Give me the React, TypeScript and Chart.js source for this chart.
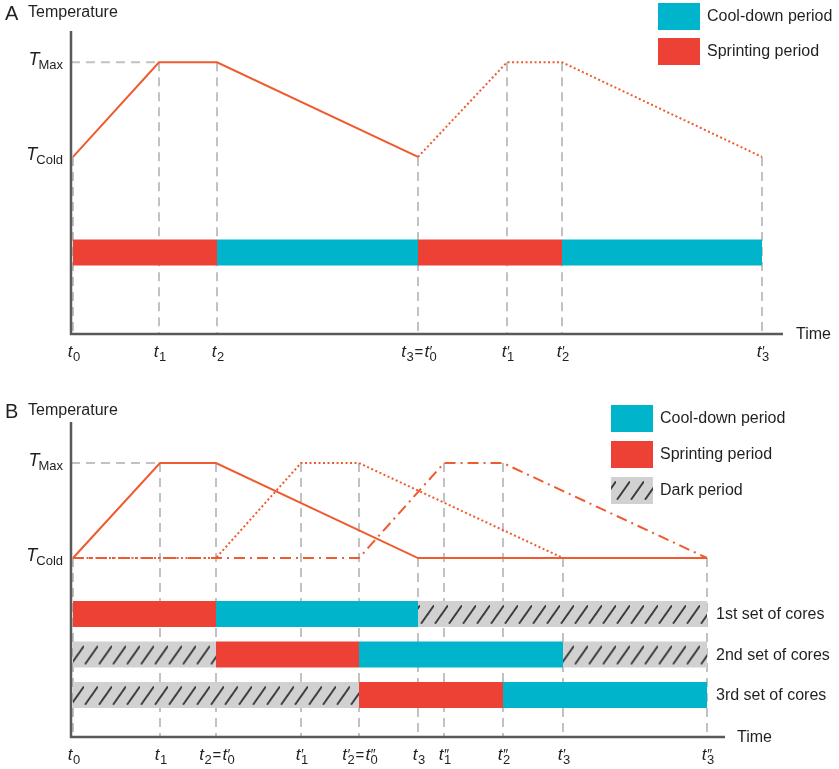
import React, { useEffect, useRef } from 'react';
import { Chart, registerables } from 'chart.js';
Chart.register(...registerables);

// ---------- data ----------
const T_COLD = 0;
const T_MAX = 1;

// Panel A (time in arbitrary units)
const timesA = [0, 86, 144, 345, 434, 489, 689];
const tickLabelsA = ['t0', 't1', 't2', 't3=t′0', 't′1', 't′2', 't′3'];
const solidIdxA = [0, 1, 2, 3];
const solidTempA = [T_COLD, T_MAX, T_MAX, T_COLD];
const dottedIdxA = [3, 4, 5, 6];
const dottedTempA = [T_COLD, T_MAX, T_MAX, T_COLD];
const guideTopA = [T_COLD, T_MAX, T_MAX, T_COLD, T_MAX, T_MAX, T_COLD];
const barsA = [
  { from: 0, to: 2, kind: 'sprint' },
  { from: 2, to: 3, kind: 'cool' },
  { from: 3, to: 5, kind: 'sprint' },
  { from: 5, to: 6, kind: 'cool' },
];

// Panel B
const timesB = [0, 87, 143, 228, 286, 345, 371, 430, 490, 634];
const tickLabelsB = ['t0', 't1', 't2=t′0', 't′1', 't′2=t″0', 't3', 't″1', 't″2', 't′3', 't″3'];
const solidIdxB = [0, 1, 2, 5, 9];
const solidTempB = [T_COLD, T_MAX, T_MAX, T_COLD, T_COLD];
const dottedIdxB = [0, 2, 3, 4, 8];
const dottedTempB = [T_COLD, T_COLD, T_MAX, T_MAX, T_COLD];
const dashDotIdxB = [0, 4, 6, 7, 9];
const dashDotTempB = [T_COLD, T_COLD, T_MAX, T_MAX, T_COLD];
const guideTopB = [T_COLD, T_MAX, T_MAX, T_MAX, T_MAX, T_COLD, T_MAX, T_MAX, T_COLD, T_COLD];
const rowNamesB = ['1st set of cores', '2nd set of cores', '3rd set of cores'];
const rowsB = [
  [ { from: 0, to: 2, kind: 'sprint' }, { from: 2, to: 5, kind: 'cool' }, { from: 5, to: 9, kind: 'dark' } ],
  [ { from: 0, to: 2, kind: 'dark' }, { from: 2, to: 4, kind: 'sprint' }, { from: 4, to: 8, kind: 'cool' }, { from: 8, to: 9, kind: 'dark' } ],
  [ { from: 0, to: 4, kind: 'dark' }, { from: 4, to: 7, kind: 'sprint' }, { from: 7, to: 9, kind: 'cool' } ],
];
const legendA = [ { kind: 'cool', label: 'Cool-down period' }, { kind: 'sprint', label: 'Sprinting period' } ];
const legendB = [ { kind: 'cool', label: 'Cool-down period' }, { kind: 'sprint', label: 'Sprinting period' }, { kind: 'dark', label: 'Dark period' } ];

// ---------- style ----------
const FONT = '"Liberation Sans", Arial, Helvetica, sans-serif';
const TEXT = '#231f20';
const CURVE = '#ef5a2e';
const SPRINT = '#ee4136';
const COOL = '#00b4cc';
const DARK_BG = '#d1d1d1';
const GUIDE = '#c2c2c2';
const AXIS = '#58595b';
const BAR_H = 26;

function hatchPattern(ctx: CanvasRenderingContext2D, top: number) {
  const c = document.createElement('canvas');
  c.width = 14; c.height = BAR_H;
  const g = c.getContext('2d')!;
  g.fillStyle = DARK_BG; g.fillRect(0, 0, 14, BAR_H);
  g.strokeStyle = '#3c3c3c'; g.lineWidth = 2; g.lineCap = 'round';
  g.beginPath(); g.moveTo(1.5, 22); g.lineTo(13.5, 5); g.stroke();
  const p = ctx.createPattern(c, 'repeat')!;
  const t = isFinite(top) ? top : 0;
  try { p.setTransform(new DOMMatrix().translate(0, t)); } catch (e) { /* ignore */ }
  return p;
}

function kindColor(kind: string) { return kind === 'sprint' ? SPRINT : COOL; }

function pts(idx: number[], temps: number[], times: number[]) {
  return idx.map((i, k) => ({ x: times[i], y: temps[k] }));
}

function curveDs(data: any[], dash: number[]) {
  return { data, borderColor: CURVE, borderWidth: 2, borderDash: dash, pointRadius: 0, fill: false, tension: 0, borderCapStyle: 'butt' };
}

function barDs(times: number[], seg: any, level: number) {
  return {
    data: [{ x: times[seg.from], y: level }, { x: times[seg.to], y: level }],
    borderColor: seg.kind === 'dark'
      ? (c: any) => hatchPattern(c.chart.ctx, c.chart.scales.y.getPixelForValue(level) - BAR_H / 2)
      : kindColor(seg.kind),
    borderWidth: BAR_H, borderCapStyle: 'butt', pointRadius: 0, fill: false, tension: 0,
  };
}

function guideDs(data: any[]) {
  return { data, borderColor: GUIDE, borderWidth: 2, borderDash: [9, 6], pointRadius: 0, fill: false, tension: 0 };
}

// ---------- text helpers ----------
function drawTLabel(ctx: CanvasRenderingContext2D, label: string, cx: number, baseline: number, big: number, small: number) {
  const pieces: { text: string; font: string; x: number; dy: number }[] = [];
  let x = 0; let pending = 0;
  const chars = Array.from(label);
  for (let i = 0; i < chars.length; i++) {
    const ch = chars[i];
    let font: string; let w: number;
    if (ch === '′' || ch === '″') {
      font = `italic ${small + 1}px ${FONT}`; ctx.font = font; w = ctx.measureText(ch).width;
      pieces.push({ text: ch, font, x: x - 0.5, dy: -1 }); pending = w;
    } else if (/[0-9]/.test(ch)) {
      font = `${small}px ${FONT}`; ctx.font = font; w = ctx.measureText(ch).width;
      pieces.push({ text: ch, font, x, dy: small * 0.32 }); x += Math.max(w, pending); pending = 0;
    } else if (ch === '=') {
      font = `${big - 2}px ${FONT}`; ctx.font = font; w = ctx.measureText(ch).width;
      pieces.push({ text: ch, font, x: x + 1, dy: 0 }); x += w + 2;
    } else {
      font = `italic ${big}px ${FONT}`; ctx.font = font; w = ctx.measureText(ch).width;
      pieces.push({ text: ch, font, x, dy: 0 }); x += w + 0.5;
    }
  }
  const start = cx - x / 2;
  ctx.fillStyle = TEXT; ctx.textAlign = 'left'; ctx.textBaseline = 'alphabetic';
  for (const p of pieces) { ctx.font = p.font; ctx.fillText(p.text, start + p.x, baseline + p.dy); }
}

function drawYLabel(ctx: CanvasRenderingContext2D, sub: string, right: number, baseline: number) {
  ctx.fillStyle = TEXT; ctx.textBaseline = 'alphabetic'; ctx.textAlign = 'left';
  ctx.font = `italic 18px ${FONT}`; const wT = ctx.measureText('T').width;
  ctx.font = `13px ${FONT}`; const wS = ctx.measureText(sub).width;
  const x0 = right - wT - wS + 1;
  ctx.font = `italic 18px ${FONT}`; ctx.fillText('T', x0, baseline);
  ctx.font = `13px ${FONT}`; ctx.fillText(sub, x0 + wT - 1, baseline + 4);
}

function makeDecor(cfg: any) {
  return {
    id: 'decor' + cfg.letter,
    afterDatasetsDraw(chart: any) {
      const ctx = chart.ctx as CanvasRenderingContext2D;
      const { left, right, top, bottom } = chart.chartArea;
      ctx.save();
      ctx.strokeStyle = AXIS; ctx.lineWidth = 2.5; ctx.setLineDash([]);
      ctx.beginPath(); ctx.moveTo(left, top); ctx.lineTo(left, bottom); ctx.lineTo(right, bottom); ctx.stroke();
      ctx.restore();
    },
    afterDraw(chart: any) {
      const ctx = chart.ctx as CanvasRenderingContext2D;
      const xs = chart.scales.x; const ys = chart.scales.y;
      const { right, bottom } = chart.chartArea;
      ctx.save();
      ctx.fillStyle = TEXT; ctx.textAlign = 'left'; ctx.textBaseline = 'alphabetic';
      ctx.font = `20px ${FONT}`; ctx.fillText(cfg.letter, 5, cfg.titleBase + 3);
      ctx.font = `16px ${FONT}`; ctx.fillText('Temperature', 28, cfg.titleBase);
      drawYLabel(ctx, 'Max', 63, ys.getPixelForValue(T_MAX) + 3);
      drawYLabel(ctx, 'Cold', 63, ys.getPixelForValue(T_COLD) + 3);
      cfg.times.forEach((t: number, i: number) => {
        drawTLabel(ctx, cfg.ticks[i], xs.getPixelForValue(t) + 1, bottom + 23, 17, 13);
      });
      ctx.fillStyle = TEXT; ctx.font = `16px ${FONT}`; ctx.textBaseline = 'middle'; ctx.textAlign = 'left';
      ctx.fillText('Time', right + cfg.timeGap, bottom + 1);
      cfg.legend.forEach((it: any, i: number) => {
        const y = cfg.legendTop + i * cfg.legendStep;
        if (it.kind === 'dark') ctx.fillStyle = hatchPattern(ctx, y);
        else ctx.fillStyle = kindColor(it.kind);
        ctx.fillRect(cfg.legendX, y, 42, 27);
        ctx.fillStyle = TEXT; ctx.font = `16px ${FONT}`; ctx.textBaseline = 'middle';
        ctx.fillText(it.label, cfg.legendX + 49, y + 14);
      });
      if (cfg.rowNames) {
        cfg.rowNames.forEach((n: string, i: number) => {
          ctx.fillStyle = TEXT; ctx.font = `16px ${FONT}`; ctx.textBaseline = 'middle';
          ctx.fillText(n, 716, ys.getPixelForValue(cfg.rowLevels[i]) + 1);
        });
      }
      ctx.restore();
    },
  };
}

function baseOptions(pad: any, xMax: number, yMin: number, yMax: number) {
  return {
    animation: false, responsive: false, events: [],
    layout: { padding: pad },
    scales: {
      x: { type: 'linear', min: -2, max: xMax, display: false },
      y: { type: 'linear', min: yMin, max: yMax, display: false },
    },
    plugins: { legend: { display: false }, tooltip: { enabled: false } },
  };
}

function configA(): any {
  const barLevel = -1.01;
  const yMin = -1.87;
  const datasets: any[] = [];
  datasets.push(curveDs(pts(solidIdxA, solidTempA, timesA), []));
  datasets.push(curveDs(pts(dottedIdxA, dottedTempA, timesA), [2, 2.5]));
  barsA.forEach((s) => datasets.push(barDs(timesA, s, barLevel)));
  datasets.push(guideDs([{ x: -2, y: T_MAX }, { x: timesA[1], y: T_MAX }]));
  timesA.forEach((t, i) => datasets.push(guideDs([{ x: t, y: guideTopA[i] }, { x: t, y: yMin }])));
  return {
    type: 'line', data: { datasets },
    options: baseOptions({ left: 71, right: 56, top: 31, bottom: 46 }, 710, yMin, 1.33),
    plugins: [makeDecor({ letter: 'A', titleBase: 17, times: timesA, ticks: tickLabelsA, timeGap: 13, legend: legendA, legendX: 658, legendTop: 3, legendStep: 35 })],
  };
}

function configB(): any {
  const rowLevels = [-0.589, -1.016, -1.442];
  const yMin = -1.884;
  const datasets: any[] = [];
  datasets.push(curveDs(pts(solidIdxB, solidTempB, timesB), []));
  datasets.push(curveDs(pts(dottedIdxB, dottedTempB, timesB), [2, 2.5]));
  datasets.push(curveDs(pts(dashDotIdxB, dashDotTempB, timesB), [11, 5, 2, 5]));
  rowsB.forEach((row, r) => row.forEach((s) => datasets.push(barDs(timesB, s, rowLevels[r]))));
  datasets.push(guideDs([{ x: -2, y: T_MAX }, { x: timesB[1], y: T_MAX }]));
  timesB.forEach((t, i) => datasets.push(guideDs([{ x: t, y: guideTopB[i] }, { x: t, y: yMin }])));
  return {
    type: 'line', data: { datasets },
    options: baseOptions({ left: 71, right: 114, top: 42, bottom: 32 }, 652, yMin, 1.432),
    plugins: [makeDecor({ letter: 'B', titleBase: 35, times: timesB, ticks: tickLabelsB, timeGap: 12, legend: legendB, legendX: 611, legendTop: 25, legendStep: 36, rowNames: rowNamesB, rowLevels })],
  };
}

export default function App() {
  const refA = useRef<HTMLCanvasElement>(null);
  const refB = useRef<HTMLCanvasElement>(null);
  useEffect(() => {
    const a = new Chart(refA.current!, configA());
    const b = new Chart(refB.current!, configB());
    return () => { a.destroy(); b.destroy(); };
  }, []);
  return (
    <div style={{ position: 'absolute', left: 0, top: 0, width: 839, height: 769, background: '#fff' }}>
      <canvas ref={refA} width={839} height={380} style={{ position: 'absolute', left: 0, top: 0 }} />
      <canvas ref={refB} width={839} height={389} style={{ position: 'absolute', left: 0, top: 380 }} />
    </div>
  );
}
